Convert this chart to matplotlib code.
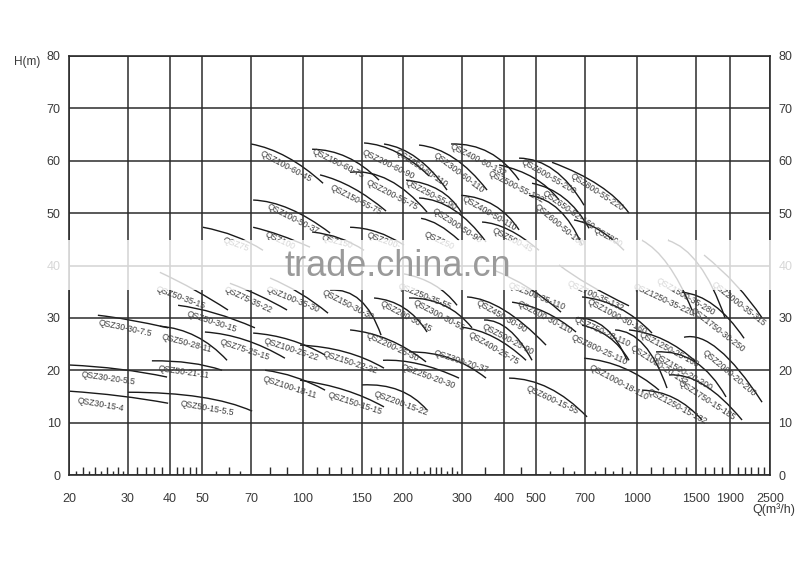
import matplotlib
matplotlib.use('Agg')
import matplotlib.pyplot as plt
from matplotlib.path import Path
from matplotlib.patches import PathPatch, Rectangle
from matplotlib.ticker import NullLocator

plt.rcParams['font.family'] = ['Liberation Sans', 'DejaVu Sans']

# axis values
x_grid = [20, 30, 40, 50, 70, 100, 150, 200, 300, 400, 500, 700, 1000, 1500, 1900, 2500]
y_grid = [0, 10, 20, 30, 40, 50, 60, 70, 80]
tall_ticks = [22, 24, 26, 28, 32, 34, 36, 38, 42, 44, 46, 48, 60, 80, 90, 110, 120, 130, 140,
              160, 170, 180, 190, 220, 240, 250, 260, 280, 350, 450, 600, 800, 900,
              1100, 1200, 1300, 1400, 1600, 1700, 1800, 2000, 2100, 2200, 2300, 2400]
short_ticks = [21, 23, 25, 27, 29, 55, 65, 210, 230, 270, 290, 550, 650, 750, 850, 950]

# pump curves: start, middle, end points (Q m3/h, H m)
names = [
    'QSZ100-60-45', 'QSZ150-60-75', 'QSZ150-55-75', 'QSZ200-60-90', 'QSZ250-60-110',
    'QSZ300-60-110', 'QSZ400-60-132', 'QSZ200-55-75', 'QSZ250-55-90', 'QSZ500-55-132',
    'QSZ600-55-200', 'QSZ800-55-220', 'QSZ650-52-160', 'QSZ600-50-160', 'QSZ800',
    'QSZ400-50-110', 'QSZ300-50-90', 'QSZ500-45', 'QSZ250', 'QSZ100-50-37',
    'QSZ100', 'QSZ75', 'QSZ150', 'QSZ200-', 'QSZ1250-35-220',
    'QSZ1500-35-280', 'QSZ2000-35-315', 'QSZ700-35-132', 'QSZ500-35-110', 'QSZ600-30-110',
    'QSZ450-30-90', 'QSZ500-25-90', 'QSZ400-25-75', 'QSZ250-35-55', 'QSZ300-30-55',
    'QSZ200-30-45', 'QSZ150-30-30', 'QSZ100-35-30', 'QSZ75-35-22', 'QSZ50-35-15',
    'QSZ50-30-15', 'QSZ30-30-7.5', 'QSZ50-28-11', 'QSZ75-25-15', 'QSZ100-25-22',
    'QSZ150-22-22', 'QSZ200-25-30', 'QSZ300-20-37', 'QSZ250-20-30', 'QSZ100-18-11',
    'QSZ150-15-15', 'QSZ200-15-22', 'QSZ30-20-5.5', 'QSZ50-21-11', 'QSZ30-15-4',
    'QSZ50-15-5.5', 'QSZ600-15-55', 'QSZ1000-30-160', 'QSZ750-28-110', 'QSZ800-25-110',
    'QSZ1000-20-132', 'QSZ1000-18-110', 'QSZ1250-25-160', 'QSZ1500-20-200', 'QSZ1750-15-185',
    'QSZ1250-15-132', 'QSZ1750-30-250', 'QSZ2000-20-200',
]
curve_q = [
    (70.1, 89.8, 115.1), (106.7, 135.7, 169.2), (112.7, 141.4, 177.6), (152.6, 191.6, 238.8), (175.1, 219.9, 270.3),
    (222.9, 283.7, 356.1), (277.9, 361.0, 443.9), (138.6, 181.3, 235.5), (203.8, 255.8, 297.7), (386.7, 492.1, 584.7),
    (443.9, 564.9, 694.6), (557.1, 770.0, 946.7), (485.4, 605.1, 719.0), (475.5, 584.7, 685.0), (648.2, 770.0, 914.7),
    (297.7, 373.7, 443.9), (222.9, 283.7, 353.6), (344.0, 414.3, 509.3), (226.0, 255.8, 293.6), (71.1, 91.6, 120.8),
    (71.1, 85.5, 105.2), (50.3, 62.8, 76.1), (106.7, 129.4, 152.6), (138.6, 166.9, 201.0), (1035.5, 1239, 1461.2),
    (1238, 1533, 1834), (1587, 1979, 2367), (584.7, 719.0, 946.7), (373.7, 475.5, 592.7), (423.0, 530.8, 657.2),
    (310.2, 400.3, 534.6), (348.8, 414.3, 485.4), (299.8, 373.7, 465.8), (201.0, 247.2, 289.6), (208.0, 264.8, 321.1),
    (163.5, 201.0, 235.5), (120.8, 148.4, 171.6), (79.9, 98.2, 119.1), (60.6, 74.5, 89.8), (37.4, 47.6, 59.8),
    (42.4, 54.7, 72.0), (24.4, 30.4, 39.6), (37.4, 47.9, 59.4), (51.0, 67.2, 88.5), (71.1, 91.6, 116.7),
    (98.2, 133.9, 175.1), (138.6, 181.3, 233.9), (208.0, 275.9, 353.6), (173.9, 222.9, 293.6), (77.2, 94.9, 116.7),
    (98.2, 133.9, 175.1), (150.5, 194.2, 235.5), (20.1, 28.4, 39.3), (35.4, 46.0, 57.4), (20.1, 28.4, 39.6),
    (30.0, 49.3, 70.6), (414.3, 545.8, 709.1), (685.0, 883.7, 1109.2), (657.2, 802.5, 933.8), (685.0, 824.9, 946.7),
    (859.9, 1049.8, 1229.8), (694.6, 914.7, 1164.1), (946.7, 1204.8, 1502), (1140.2, 1492, 1847), (1247, 1587, 2062),
    (1035.5, 1290.8, 1565), (1363.9, 1700, 2091), (1382.9, 1760, 2367),
]
curve_h = [
    (63.2, 60.7, 55.7), (62.2, 60.7, 56.3), (57.3, 54.8, 50.4), (63.4, 61.6, 57.1), (63.2, 60.5, 54.4),
    (63.0, 60.5, 54.4), (63.2, 61.6, 56.3), (57.8, 56.3, 50.2), (56.3, 54.4, 50.2), (59.2, 56.7, 52.5),
    (60.5, 58.2, 51.5), (59.7, 55.3, 50.0), (55.7, 52.9, 47.1), (53.4, 50.6, 43.9), (48.7, 46.8, 42.9),
    (53.4, 51.5, 46.8), (52.9, 50.6, 44.5), (48.3, 46.8, 42.9), (49.0, 47.7, 44.8), (52.5, 50.8, 46.2),
    (47.3, 45.8, 43.5), (47.3, 45.6, 42.9), (46.4, 45.2, 42.9), (47.3, 46.4, 43.9), (44.8, 40.1, 31.5),
    (44.8, 40.1, 30.0), (42.0, 36.3, 30.0), (40.1, 36.3, 32.3), (39.1, 35.7, 31.1), (33.0, 31.1, 27.3),
    (34.0, 31.5, 24.8), (29.6, 27.7, 21.9), (28.2, 26.3, 21.9), (38.4, 36.3, 32.4), (33.8, 32.4, 28.1),
    (33.8, 31.9, 27.3), (35.3, 33.4, 26.7), (37.6, 34.7, 30.9), (36.6, 34.2, 31.5), (38.7, 35.3, 31.5),
    (32.4, 30.9, 28.1), (30.5, 29.6, 28.1), (28.4, 26.5, 21.9), (27.3, 25.8, 22.3), (27.1, 25.8, 22.9),
    (24.8, 23.5, 20.4), (27.7, 25.8, 21.6), (23.5, 22.3, 18.5), (21.9, 21.2, 18.5), (20.0, 18.7, 16.2),
    (18.1, 16.2, 13.0), (17.2, 16.2, 12.4), (21.0, 20.2, 18.7), (21.8, 21.4, 20.0), (16.0, 15.1, 13.7),
    (15.8, 14.9, 12.2), (18.5, 16.6, 11.1), (34.0, 31.9, 27.1), (30.0, 28.1, 21.9), (28.6, 26.3, 21.9),
    (27.7, 24.8, 16.6), (22.3, 20.4, 16.2), (27.7, 25.8, 21.6), (23.5, 21.6, 14.9), (19.1, 17.2, 10.5),
    (16.2, 14.7, 10.5), (34.9, 32.4, 26.1), (26.3, 23.9, 13.9),
]
label_q = [
    89.1, 127.6, 144.4, 180.0, 227.5, 293.6, 334.6, 185.0, 242.0, 434.6,
    545.8, 759.5, 622, 584.7, 819, 361.0, 289.6, 423.0, 255.8, 93.6,
    85.5, 63.2, 126.7, 175.1, 1204.8, 1402, 2020, 754, 500, 530.8,
    394, 411, 373.7, 232.3, 255.8, 203.8, 137.1, 93.6, 68.6, 43.0,
    53.4, 29.4, 45.1, 67.2, 92.6, 138.6, 185.0, 297.7, 237, 91.6,
    143.4, 197, 26.3, 44.2, 24.9, 51.9, 557, 871.5, 785, 770,
    1164, 883.7, 1247, 1373, 1621, 1318, 1748, 1886,
]
label_h = [
    59.0, 59.4, 52.5, 59.2, 58.6, 57.6, 60.1, 53.4, 53.4, 55.0,
    56.9, 54.0, 50.6, 47.7, 45.4, 50.0, 47.5, 44.8, 44.8, 48.9,
    44.8, 44.1, 44.5, 44.8, 33.4, 34.0, 32.6, 34.2, 34.2, 30.0,
    30.3, 25.8, 24.2, 34.0, 30.5, 30.2, 32.4, 33.6, 33.4, 33.8,
    29.2, 28.1, 25.2, 24.0, 24.0, 21.4, 24.4, 21.6, 18.7, 16.8,
    13.7, 13.7, 18.5, 19.7, 13.5, 12.8, 14.3, 30.2, 27.3, 23.9,
    21.0, 17.7, 23.9, 19.7, 14.3, 13.0, 27.7, 19.5,
]
label_rot = [
    -28, -26, -27, -26, -34, -37, -27, -27, -27, -27,
    -30, -33, -35, -40, -30, -30, -33, -27, -25, -27,
    -25, -20, -15, -20, -25, -30, -38, -25, -22, -28,
    -30, -28, -30, -22, -28, -28, -27, -22, -25, -20,
    -18, -12, -15, -18, -18, -18, -25, -18, -20, -18,
    -18, -20, -8, -8, -10, -10, -25, -28, -25, -25,
    -33, -28, -28, -30, -33, -28, -38, -40,
]

line_col = '#2b2b2b'
text_col = '#3a3a3a'

fig = plt.figure(figsize=(8, 5.66), dpi=100)
ax = fig.add_axes([69 / 800, 91 / 566, 701 / 800, 419 / 566])
ax.set_xscale('log')
ax.set_xlim(20, 2500)
ax.set_ylim(0, 80)

ax.set_xticks(x_grid)
ax.set_xticklabels([str(v) for v in x_grid])
ax.xaxis.set_minor_locator(NullLocator())
ax.set_yticks(y_grid)
ax.grid(True, color=line_col, lw=1.1)
ax.tick_params(length=0, labelsize=9, labelcolor=text_col, labelright=True)
ax.tick_params(axis='x', pad=13)
ax.tick_params(axis='y', pad=6)
for s in ax.spines.values():
    s.set_color(line_col)
    s.set_linewidth(1.2)

# little ticks along the bottom
ax.vlines(tall_ticks, 0, 1.5, color=line_col, lw=1.0)
ax.vlines(short_ticks, 0, 0.8, color=line_col, lw=1.0)

# curves drawn as quadratic bezier through start/middle/end
for q, h in zip(curve_q, curve_h):
    qc = q[1] ** 2 / (q[0] * q[2]) ** 0.5
    hc = 2 * h[1] - (h[0] + h[2]) / 2
    p = Path([(q[0], h[0]), (qc, hc), (q[2], h[2])], [Path.MOVETO, Path.CURVE3, Path.CURVE3])
    ax.add_patch(PathPatch(p, fill=False, ec='#1a1a1a', lw=1.0, transform=ax.transData))

for n, lq, lh, r in zip(names, label_q, label_h, label_rot):
    ax.text(lq, lh, n, rotation=r, rotation_mode='anchor', ha='center', va='center',
            fontsize=6.2, color=text_col)

fig.text(14 / 800, 1 - 62 / 566, 'H(m)', fontsize=8.5, color=text_col, va='center')
fig.text(795 / 800, 1 - 510 / 566, 'Q(m³/h)', fontsize=9, color=text_col, va='center', ha='right')

# blurred watermark band
fig.patches.append(Rectangle((0, (566 - 290) / 566), 1, 50 / 566, transform=fig.transFigure,
                             facecolor='white', alpha=0.8, edgecolor='none', zorder=5))
fig.text(398 / 800, 1 - 266 / 566, 'trade.china.cn', fontsize=26, color='#9a9a9a',
         ha='center', va='center', zorder=6)

fig.savefig('out.png', dpi=100, facecolor='white')
